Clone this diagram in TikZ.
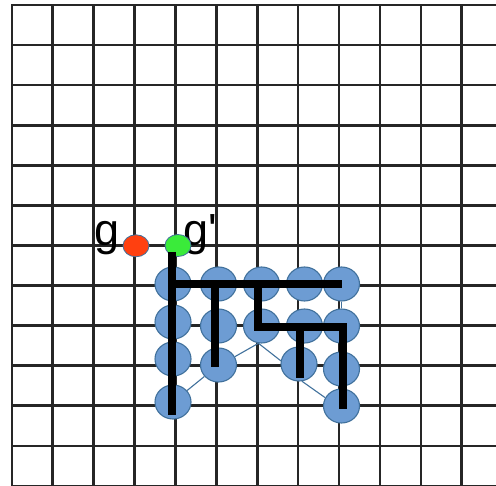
\documentclass[tikz,border=0pt]{standalone}
\usepackage{fontspec}
\newfontfamily\glabelfont[Ligatures=TeXOff]{Liberation Sans}
\usetikzlibrary{shapes,positioning}

\definecolor{cellblue}{RGB}{109,156,211}
\definecolor{edgeblue}{RGB}{65,113,156}
\definecolor{startred}{RGB}{255,64,16}
\definecolor{goalgreen}{RGB}{58,235,58}

\begin{document}
\begin{tikzpicture}[
    x=1pt, y=-1pt,
    gridline/.style={line width=2.6pt, black!85, line cap=rect},
    cell/.style={ellipse, draw=edgeblue, fill=cellblue, line width=1.1pt, minimum width=36pt, minimum height=34pt, inner sep=0pt},
    marker/.style={ellipse, draw=edgeblue, line width=0.8pt, minimum width=26pt, minimum height=22pt, inner sep=0pt},
    link/.style={draw=edgeblue, line width=1.1pt},
    bar/.style={line width=8pt, black},
    glabel/.style={font=\glabelfont\fontsize{45}{50}\selectfont, inner sep=0pt, anchor=base},
]
    \useasboundingbox (0,0) rectangle (496,486);

    % grid
    \foreach \i in {0,...,11}
        \draw[gridline] (11.8+40.9*\i,5) -- (11.8+40.9*\i,490);
    \foreach \j in {0,...,12}
        \draw[gridline] (11.8,5+40.08*\j) -- (500,5+40.08*\j);

    % cells
    \node[cell] (a1) at (173,284) {};
    \node[cell] (a2) at (173,322) {};
    \node[cell] (a3) at (173,359) {};
    \node[cell] (a4) at (173,402) {};
    \node[cell] (b1) at (218.5,284) {};
    \node[cell] (b2) at (218.5,326) {};
    \node[cell] (b3) at (218.5,365) {};
    \node[cell] (c1) at (261.5,284) {};
    \node[cell] (c2) at (261.5,326) {};
    \node[cell] (d1) at (304.5,284) {};
    \node[cell] (d2) at (304.5,326) {};
    \node[cell] (d3) at (299,364) {};
    \node[cell] (e1) at (341.5,284) {};
    \node[cell] (e2) at (341.5,326) {};
    \node[cell] (e3) at (341.5,369) {};
    \node[cell] (e4) at (341.5,406) {};

    \draw[link] (a4) -- (b3);
    \draw[link] (b3.27) -- (c2.260);
    \draw[link] (c2.260) -- (d3.170);
    \draw[link] (d3.280) -- (e4.153);
    \draw[link] (e1) -- (e2);

    % start and goal
    \node[glabel] (gtext) at (107,245.5) {g};
    \node[glabel] (gptext) at (200,245.5) {g'};
    \node[marker, fill=startred] (g) at (136,245.8) {};
    \node[marker, fill=goalgreen] (gp) at (178,245.5) {};

    % tree
    \draw[bar] (172,252) -- (172,415);
    \draw[bar] (172,284.5) -- (342,284.5);
    \draw[bar] (215,280.5) -- (215,367);
    \draw[bar] (257.5,280.5) -- (257.5,327) -- (343,327) -- (343,409);
    \draw[bar] (300,327) -- (300,378);
\end{tikzpicture}
\end{document}
